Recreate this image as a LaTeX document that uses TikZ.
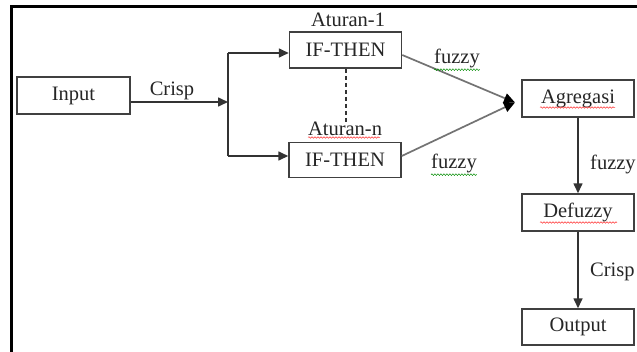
\documentclass[tikz,border=0pt]{standalone}
\usepackage{fontspec}
\setmainfont{Liberation Serif}
\usetikzlibrary{arrows.meta,decorations.pathmorphing}
\begin{document}
\begin{tikzpicture}[x=1pt,y=-1pt,
  every node/.style={font=\fontsize{20.5}{24}\selectfont, text=black!85},
  box/.style={draw=black!75, line width=1.5pt, minimum width=112pt, minimum height=36pt, inner sep=0pt},
  lbl/.style={inner sep=0pt},
  conn/.style={draw=black!80, line width=1.6pt},
  arr/.style={conn, -{Triangle[length=10pt,width=9pt]}},
  gconn/.style={draw=black!55, line width=1.7pt, -{Triangle[length=11pt,width=10pt,color=black]}},
  redwave/.style={draw=red!80, line width=0.5pt, decorate, decoration={snake, segment length=3pt, amplitude=0.8pt}},
  greenwave/.style={draw=green!55!black, line width=0.5pt, decorate, decoration={snake, segment length=3pt, amplitude=0.8pt}}]
\useasboundingbox (0,0) rectangle (637,351);
\clip (0,0) rectangle (637,351);
\fill[white] (0,0) rectangle (637,351);
% frame
\draw[line width=2.6pt, black] (640,6.5) -- (11.5,6.5) -- (11.5,355);
% boxes
\node[box, minimum width=113pt, minimum height=37pt] (input) at (73.5,95.5) {Input};
\node[box] (if1) at (345.5,50) {IF-THEN};
\node[box, minimum height=35pt] (ifn) at (345,160) {IF-THEN};
\node[box, minimum height=37pt] (agr) at (578,98.5) {Agregasi};
\node[box, minimum height=37pt] (def) at (578,212.5) {Defuzzy};
\node[box] (out) at (578,327) {Output};
% labels
\node[lbl] (at1) at (348,20) {Aturan-1};
\node[lbl] (atn) at (345,129) {Aturan-n};
\node[lbl] (crisp1) at (172,91) {Crisp};
\node[lbl] (fz1) at (457,58) {fuzzy};
\node[lbl] (fz2) at (454,163) {fuzzy};
\node[lbl, anchor=west] (fz3) at (590,164) {fuzzy};
\node[lbl, anchor=west] (crisp2) at (590,272) {Crisp};
% coordinates
\coordinate (j) at (228,102);
\coordinate (jt) at (228,53);
\coordinate (jb) at (228,156);
\coordinate (m) at (515,102.5);
% connectors
\draw[arr] (input.east |- j) -- (j);
\draw[conn] (jt) -- (jb);
\draw[arr] (jt) -- (jt -| if1.west);
\draw[arr] (jb) -- (jb -| ifn.west);
\draw[conn, dashed, dash pattern=on 4pt off 3pt] (if1.south) ++(0.5,0) coordinate (d1) -- (d1 |- atn.north);
\draw[gconn] ([yshift=-5pt]if1.east) -- (m);
\draw[gconn] ([yshift=4pt]ifn.east) -- (m);
\draw[arr] (agr) -- (def);
\draw[arr] (def) -- (out);
% spell-check waves
\draw[redwave] ([xshift=-37pt,yshift=-8.5pt]atn.center) -- ([xshift=35pt,yshift=-8.5pt]atn.center);
\draw[redwave] ([xshift=-38pt,yshift=-9pt]agr.center) -- ([xshift=37pt,yshift=-9pt]agr.center);
\draw[redwave] ([xshift=-38pt,yshift=-10pt]def.center) -- ([xshift=39pt,yshift=-10pt]def.center);
\draw[greenwave] ([yshift=-2pt]fz1.south west) -- ([yshift=-2pt]fz1.south east);
\draw[greenwave] ([yshift=-2pt]fz2.south west) -- ([yshift=-2pt]fz2.south east);
\end{tikzpicture}
\end{document}
